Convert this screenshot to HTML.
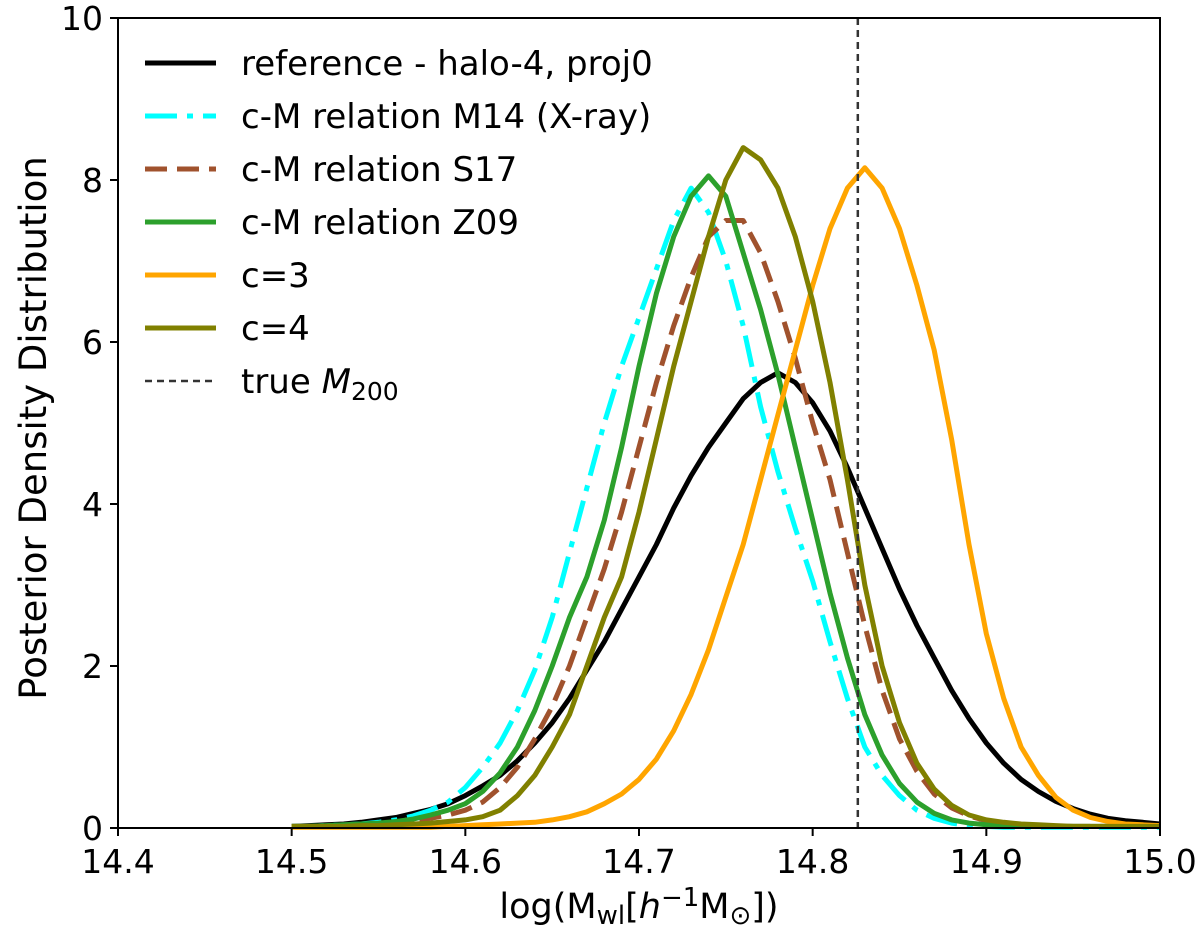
<!DOCTYPE html>
<html><head><meta charset="utf-8"><style>
body{margin:0;background:#fff;}
svg text{font-family:"DejaVu Sans","Liberation Sans",sans-serif;fill:#000;}
</style></head><body>
<svg id="chart" width="1200" height="939" viewBox="0 0 1200 939" xmlns="http://www.w3.org/2000/svg">
<g id="plot"></g>
</svg>
<script>
const xStart = 14.50, xStep = 0.01;
const xTicks = [14.4, 14.5, 14.6, 14.7, 14.8, 14.9, 15.0];
const xTickLabels = ["14.4","14.5","14.6","14.7","14.8","14.9","15.0"];
const yTicks = [0, 2, 4, 6, 8, 10];
const trueM200 = 14.826;
const seriesNames = ["reference - halo-4, proj0","c-M relation M14 (X-ray)","c-M relation S17","c-M relation Z09","c=3","c=4"];
const blackVals = [.02,.03,.04,.05,.07,.1,.13,.18,.23,.3,.4,.52,.65,.83,1.05,1.3,1.6,1.95,2.3,2.7,3.1,3.5,3.95,4.35,4.7,5.0,5.3,5.5,5.62,5.5,5.25,4.9,4.45,3.95,3.45,2.95,2.5,2.1,1.7,1.35,1.05,.8,.6,.45,.33,.24,.17,.12,.09,.07,.05];
const cyanVals = [.02,.02,.03,.04,.05,.07,.1,.15,.22,.32,.5,.75,1.05,1.45,1.95,2.6,3.4,4.2,5.0,5.7,6.3,6.9,7.5,7.9,7.6,7.0,6.2,5.2,4.4,3.7,3.05,2.3,1.6,1.0,.65,.4,.22,.12,.06,.03,.02,.01,.01,.01,.01,.01,.01,.01,.01,.01,.01];
const brownVals = [.02,.02,.02,.03,.04,.05,.07,.09,.12,.16,.22,.32,.5,.75,1.1,1.5,2.0,2.6,3.2,3.9,4.7,5.5,6.2,6.8,7.3,7.5,7.5,7.1,6.5,5.8,5.0,4.3,3.4,2.5,1.7,1.1,.7,.42,.25,.15,.09,.06,.04,.03,.02,.02,.02,.02,.02,.02,.02];
const greenVals = [.02,.02,.03,.04,.05,.06,.08,.11,.16,.22,.3,.45,.68,1.0,1.45,2.0,2.6,3.1,3.8,4.7,5.7,6.6,7.3,7.8,8.05,7.8,7.1,6.4,5.6,4.7,3.8,2.9,2.1,1.4,.9,.55,.32,.18,.1,.06,.04,.02,.02,.02,.02,.02,.02,.02,.02,.02,.02];
const orangeVals = [.01,.01,.01,.01,.01,.01,.01,.01,.01,.02,.03,.04,.05,.06,.07,.1,.14,.2,.3,.42,.6,.85,1.2,1.65,2.2,2.85,3.5,4.3,5.1,5.9,6.7,7.4,7.9,8.15,7.9,7.4,6.7,5.9,4.8,3.5,2.4,1.6,1.0,.65,.38,.22,.13,.08,.05,.04,.03];
const oliveVals = [.02,.02,.02,.02,.03,.03,.04,.05,.06,.08,.1,.14,.22,.4,.65,1.0,1.4,2.0,2.6,3.1,3.9,4.8,5.7,6.5,7.3,8.0,8.4,8.25,7.9,7.3,6.5,5.5,4.3,3.0,2.0,1.3,.8,.48,.28,.16,.1,.07,.05,.04,.03,.02,.02,.02,.02,.02,.02];

const L=118,R=1160,T=18,B=828;
const xs=v=>L+(v-14.4)/0.6*(R-L);
const ys=v=>B-v/10*(B-T);
const NS="http://www.w3.org/2000/svg";
const svg=document.getElementById('chart');
const plot=document.getElementById('plot');
function mk(tag,attrs,parent){const e=document.createElementNS(NS,tag);for(const k in attrs)e.setAttribute(k,attrs[k]);(parent||svg).appendChild(e);return e;}

const styles=[
 {vals:blackVals,color:"#000000",dash:"",name:"series-reference"},
 {vals:cyanVals,color:"#00ffff",dash:"32 10 6 10",name:"series-m14"},
 {vals:brownVals,color:"#a0522d",dash:"22 10",name:"series-s17"},
 {vals:greenVals,color:"#2ca02c",dash:"",name:"series-z09"},
 {vals:orangeVals,color:"#ffa500",dash:"",name:"series-c3"},
 {vals:oliveVals,color:"#808000",dash:"",name:"series-c4"}
];
styles.forEach(s=>{
  const pts=s.vals.map((v,i)=>xs(xStart+i*xStep).toFixed(1)+","+ys(v).toFixed(1)).join(" ");
  const p=mk('polyline',{points:pts,fill:"none",stroke:s.color,"stroke-width":5,"stroke-linejoin":"round","stroke-dasharray":s.dash},plot);
  
  
});
const vl=mk('line',{x1:xs(trueM200),x2:xs(trueM200),y1:T,y2:B,stroke:"#333","stroke-width":2.5,"stroke-dasharray":"7 5"},plot);



const frame=mk('rect',{x:L,y:T,width:R-L,height:B-T,fill:"none",stroke:"#000","stroke-width":2});



xTicks.forEach((t,i)=>{
  const tk=mk('line',{x1:xs(t),x2:xs(t),y1:B,y2:B+8,stroke:"#000","stroke-width":2});
  
  
  const tx=mk('text',{x:xs(t),y:B+45,"text-anchor":"middle","font-size":33});
  tx.textContent=xTickLabels[i];
  
  
});
yTicks.forEach(t=>{
  const tk=mk('line',{x1:L-8,x2:L,y1:ys(t),y2:ys(t),stroke:"#000","stroke-width":2});
  
  
  const tx=mk('text',{x:L-15,y:ys(t)+12,"text-anchor":"end","font-size":33});
  tx.textContent=String(t);
  
  
});

const yl=mk('text',{x:0,y:0,"text-anchor":"middle","font-size":37,transform:"translate(46,428) rotate(-90)"});
yl.textContent="Posterior Density Distribution";


const xl=mk('text',{x:639,y:918,"text-anchor":"middle","font-size":35});
xl.innerHTML='log(M<tspan font-size="26" dy="6">wl</tspan><tspan dy="-6">[</tspan><tspan font-style="italic">h</tspan><tspan font-size="26" dy="-12">−1</tspan><tspan dy="12">M</tspan><tspan font-size="26" dy="6">⊙</tspan><tspan dy="-6">])</tspan>';



const legendRows=styles.map((s,i)=>({color:s.color,dash:s.dash,label:seriesNames[i],w:5}));
legendRows.push({color:"#333",dash:"7 5",label:null,w:2.5});
legendRows.forEach((r,i)=>{
  const y=63+i*53;
  const g=mk('g',{});
  
  
  mk('line',{x1:145,x2:216,y1:y,y2:y,stroke:r.color,"stroke-width":r.w,"stroke-dasharray":r.dash},g);
  const t=mk('text',{x:241,y:y+12,"font-size":34},g);
  if(r.label) t.textContent=r.label;
  else t.innerHTML='true <tspan font-style="italic">M</tspan><tspan font-size="25" dy="7">200</tspan>';
});
</script>
</body></html>
